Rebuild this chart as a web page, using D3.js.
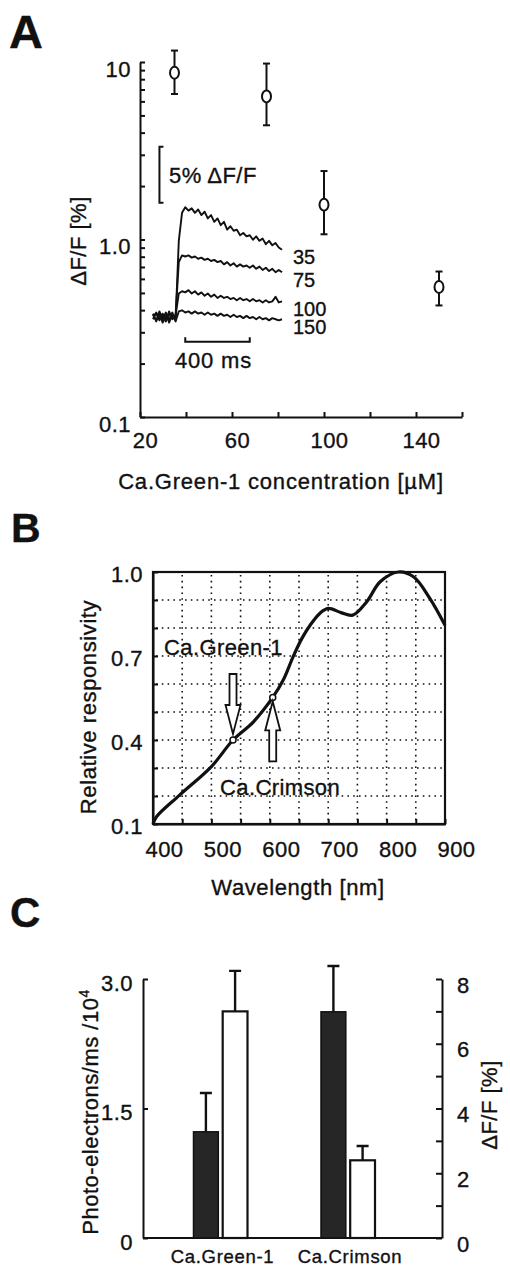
<!DOCTYPE html>
<html lang="en">
<head>
<meta charset="utf-8">
<title>Dye response figure</title>
<script src="https://d3js.org/d3.v7.min.js"></script>
<style>
  body { margin: 0; background: #fff; }
  svg { display: block; }
  text { font-family: "Liberation Sans", Arial, sans-serif; fill: #111; stroke: #111; stroke-width: 0.35px; }
  .tick line, .domain { stroke: #111; stroke-width: 2; }
</style>
</head>
<body>
<script>
// ---- panel A : dF/F vs dye concentration ----
const concA = [35, 75, 100, 150];
const dffA = [8.7, 6.4, 1.57, 0.54];
const dffHiA = [11.6, 9.8, 2.43, 0.66];
const dffLoA = [6.6, 4.4, 1.07, 0.425];
const concTicks = [20, 40, 60, 80, 100, 120, 140, 160];
const concLabels = [20, 60, 100, 140];

// inset traces (ms, % dF/F)
const traceT = [0, 20, 40, 60, 80, 100, 120, 140, 160, 180, 200, 220, 240, 260, 280, 300, 320, 340, 360, 380,
  400, 420, 440, 460, 480, 500, 520, 540, 560, 580, 600, 620, 640, 660, 680, 700, 720, 740, 760, 780, 800];
const trace35 = [0.3, -0.4, 0.5, -0.2, 0.4, -0.5, 0.2, -0.3, 6.8, 9.3, 9.8, 9.5, 9.7, 9.3, 9.6, 9.1, 9.4, 8.8, 9.1, 8.5,
  8.8, 8.2, 8.5, 7.8, 8.1, 7.7, 7.8, 7.3, 7.5, 7.2, 7.3, 6.9, 7.2, 6.8, 7.0, 6.5, 6.8, 6.4, 6.6, 6.2, 6.0];
const trace75 = [0.1, 0.3, -0.3, 0.2, -0.4, 0.3, -0.1, 0.2, 4.9, 5.5, 5.4, 5.5, 5.3, 5.4, 5.2, 5.3, 5.1, 5.2, 5.0, 5.1,
  4.9, 5.0, 4.7, 4.9, 4.6, 4.8, 4.5, 4.7, 4.5, 4.6, 4.4, 4.6, 4.3, 4.5, 4.2, 4.4, 4.1, 4.3, 4.0, 4.2, 4.0];
const trace100 = [-0.2, 0.4, -0.1, 0.3, -0.3, 0.5, -0.2, 0.1, 2.1, 2.3, 2.2, 2.4, 2.1, 2.3, 2.0, 2.2, 1.9, 2.1, 1.8, 2.0,
  1.7, 1.9, 1.7, 1.8, 1.6, 1.7, 1.5, 1.7, 1.5, 1.6, 1.4, 1.6, 1.4, 1.5, 1.3, 1.5, 1.3, 1.4, 1.8, 1.3, 1.4];
const trace150 = [0.2, -0.3, 0.3, -0.5, 0.1, -0.2, 0.4, -0.4, 0.5, 0.6, 0.4, 0.5, 0.3, 0.5, 0.3, 0.4, 0.2, 0.4, 0.2, 0.3,
  0.1, 0.3, 0.1, 0.2, 0.0, 0.2, 0.0, 0.1, -0.1, 0.1, -0.1, 0.0, -0.2, 0.0, -0.2, -0.1, -0.3, -0.1, -0.2, -0.3, -0.2];
const traceNames = ["35", "75", "100", "150"];

// ---- panel B : detector responsivity ----
const waveNm = [400, 406, 446, 500, 537, 572, 605, 623, 640, 655, 669, 686, 700, 722, 742, 766, 789, 820, 846, 874, 900];
const respB = [0.10, 0.126, 0.204, 0.305, 0.40, 0.465, 0.552, 0.614, 0.698, 0.763, 0.81, 0.853, 0.87, 0.855, 0.846, 0.894, 0.965, 1.0, 0.983, 0.906, 0.81];
const dyeMarks = [
  { name: "Ca.Green-1", nm: 537, r: 0.40 },
  { name: "Ca.Crimson", nm: 605, r: 0.552 }
];

// ---- panel C : photo-electrons and dF/F per dye ----
const dyes = ["Ca.Green-1", "Ca.Crimson"];
const photoE = [1.23, 2.62];
const photoEHi = [1.68, 3.15];
const dffC = [7.0, 2.4];
const dffCHi = [8.25, 2.84];

const svg = d3.select("body").append("svg").attr("width", 510).attr("height", 1266);
const FS = 22;

function styleText(sel, size) {
  sel.selectAll("text").style("font-size", size + "px").style("letter-spacing", "0.5px").attr("fill", "#111");
}

function panelLetter(txt, x, y, size) {
  svg.append("text").attr("x", x).attr("y", y).text(txt)
    .style("font-size", size + "px").style("font-weight", "bold");
}

// ================= A =================
panelLetter("A", 9, 48, 47);
const xA = d3.scaleLinear().domain([20, 160]).range([140, 462]);
const yA = d3.scaleLog().domain([0.1, 10]).range([417, 62]);

const gA = svg.append("g");
gA.append("g").attr("transform", "translate(140,0)")
  .call(d3.axisLeft(yA).tickSizeInner(-5).tickSizeOuter(0).tickPadding(9)
    .tickFormat(d => d === 10 ? "10" : d === 1 ? "1.0" : d === 0.1 ? "0.1" : ""))
  .call(g => g.selectAll("text").attr("dy", "0.65em"))
  .call(g => styleText(g, FS));

gA.append("g").attr("transform", "translate(0,417)")
  .call(d3.axisBottom(xA).tickValues(concTicks).tickSizeInner(-5).tickSizeOuter(0).tickPadding(15)
    .tickFormat(d => concLabels.includes(d) ? d : ""))
  .call(g => g.selectAll("text").attr("dx", 5))
  .call(g => styleText(g, FS));

gA.append("text").attr("transform", "translate(86,241) rotate(-90)")
  .attr("text-anchor", "middle").text("ΔF/F [%]")
  .style("font-size", FS + "px").style("letter-spacing", "0.5px");
gA.append("text").attr("x", 281).attr("y", 489).attr("text-anchor", "middle")
  .text("Ca.Green-1 concentration [µM]")
  .style("font-size", FS + "px").style("letter-spacing", "0.8px");

// error bars + open markers
const pts = concA.map((c, i) => ({ c, v: dffA[i], hi: dffHiA[i], lo: dffLoA[i] }));
const eb = gA.append("g").attr("stroke", "#111").attr("stroke-width", 2);
eb.selectAll(".v").data(pts).join("line")
  .attr("x1", d => xA(d.c)).attr("x2", d => xA(d.c))
  .attr("y1", d => yA(d.hi)).attr("y2", d => yA(d.lo));
eb.selectAll(".capT").data(pts).join("line")
  .attr("x1", d => xA(d.c) - 3.5).attr("x2", d => xA(d.c) + 3.5)
  .attr("y1", d => yA(d.hi)).attr("y2", d => yA(d.hi));
eb.selectAll(".capB").data(pts).join("line")
  .attr("x1", d => xA(d.c) - 3.5).attr("x2", d => xA(d.c) + 3.5)
  .attr("y1", d => yA(d.lo)).attr("y2", d => yA(d.lo));
gA.selectAll("ellipse").data(pts).join("ellipse")
  .attr("cx", d => xA(d.c)).attr("cy", d => yA(d.v))
  .attr("rx", 4.5).attr("ry", 6)
  .attr("fill", "#fff").attr("stroke", "#111").attr("stroke-width", 2);

// inset traces
const xT = d3.scaleLinear().domain([0, 800]).range([153, 282]);
const yT = d3.scaleLinear().domain([0, 10]).range([317, 205]);
const tLine = d3.line().x((d, i) => xT(traceT[i])).y(d => yT(d));
const traces = [trace35, trace75, trace100, trace150];
gA.selectAll(".trace").data(traces).join("path")
  .attr("d", tLine).attr("fill", "none").attr("stroke", "#111")
  .attr("stroke-width", 1.9).attr("stroke-linejoin", "round");
gA.selectAll(".tlab").data(traces).join("text")
  .attr("x", 293).attr("y", d => yT(d[d.length - 1]) + 14.5)
  .text((d, i) => traceNames[i])
  .style("font-size", "20px");

// scale bars
const sb = gA.append("g").attr("stroke", "#111").attr("stroke-width", 2).attr("fill", "none");
sb.append("path").attr("d", `M${xT(40) + 4},${yT(15.2)}H${xT(40)}V${yT(10.2)}H${xT(40) + 4}`);
sb.append("path").attr("d", `M${xT(200)},${yT(-1.8)}V${yT(-2.2)}H${xT(600)}V${yT(-1.8)}`);
gA.append("text").attr("x", 169).attr("y", 183).text("5% ΔF/F")
  .style("font-size", FS + "px").style("letter-spacing", "0.5px");
gA.append("text").attr("x", 175).attr("y", 368).text("400 ms")
  .style("font-size", FS + "px").style("letter-spacing", "0.8px");

// ================= B =================
panelLetter("B", 11, 542, 41);
const xB = d3.scaleLinear().domain([400, 900]).range([153, 445]);
const yB = d3.scaleLinear().domain([0.1, 1.0]).range([824, 572]);
const gB = svg.append("g");
const nmGrid = [450, 500, 550, 600, 650, 700, 750, 800, 850];
const rGrid = [0.2, 0.3, 0.4, 0.5, 0.6, 0.7, 0.8, 0.9];

const grid = gB.append("g").attr("stroke", "#111").attr("stroke-width", 1.6)
  .attr("stroke-dasharray", "1.6,4.2");
grid.selectAll(".gv").data(nmGrid).join("line")
  .attr("x1", d => xB(d)).attr("x2", d => xB(d)).attr("y1", 575).attr("y2", 821);
grid.selectAll(".gh").data(rGrid).join("line")
  .attr("y1", d => yB(d)).attr("y2", d => yB(d)).attr("x1", 156).attr("x2", 442);

gB.append("g").attr("transform", "translate(0,824)")
  .call(d3.axisBottom(xB).tickValues([400, 450, 500, 550, 600, 650, 700, 750, 800, 850, 900])
    .tickSizeInner(-5).tickSizeOuter(0).tickPadding(17)
    .tickFormat(d => d % 100 === 0 ? d : ""))
  .call(g => g.selectAll("text").attr("dx", 11))
  .call(g => styleText(g, FS));
gB.append("g").attr("transform", "translate(153,0)")
  .call(d3.axisLeft(yB).tickValues([0.1, 0.2, 0.3, 0.4, 0.5, 0.6, 0.7, 0.8, 0.9, 1.0])
    .tickSizeInner(-5).tickSizeOuter(0).tickPadding(10)
    .tickFormat(d => [0.1, 0.4, 0.7, 1.0].some(v => Math.abs(v - d) < 1e-6) ? d3.format(".1f")(d) : ""))
  .call(g => g.selectAll("text").attr("dy", "0.45em"))
  .call(g => styleText(g, FS));
gB.append("rect").attr("x", 153).attr("y", 572).attr("width", 292).attr("height", 252)
  .attr("fill", "none").attr("stroke", "#111").attr("stroke-width", 2.2);

gB.append("text").attr("transform", "translate(96,707) rotate(-90)")
  .attr("text-anchor", "middle").text("Relative responsivity")
  .style("font-size", FS + "px").style("letter-spacing", "0.6px");
gB.append("text").attr("x", 298).attr("y", 895).attr("text-anchor", "middle")
  .text("Wavelength [nm]").style("font-size", FS + "px").style("letter-spacing", "0.6px");

const respLine = d3.line().x((d, i) => xB(waveNm[i])).y(d => yB(d)).curve(d3.curveCatmullRom);
gB.append("path").attr("d", respLine(respB)).attr("fill", "none")
  .attr("stroke", "#111").attr("stroke-width", 3.2);

gB.selectAll(".mk").data(dyeMarks).join("circle")
  .attr("cx", d => xB(d.nm)).attr("cy", d => yB(d.r)).attr("r", 3)
  .attr("fill", "#fff").attr("stroke", "#111").attr("stroke-width", 1.5);

// hollow arrows
function arrowPath(x, tipY, dir) {
  // dir = 1 points down, -1 points up
  const head = 29, shaft = 31, hw = 7.5, sw = 3.5;
  const b = tipY - dir * head, e = b - dir * shaft;
  return `M${x},${tipY}L${x - hw},${b}L${x - sw},${b}L${x - sw},${e}L${x + sw},${e}L${x + sw},${b}L${x + hw},${b}Z`;
}
gB.append("path").attr("d", arrowPath(xB(dyeMarks[0].nm), yB(dyeMarks[0].r) - 6, 1))
  .attr("fill", "#fff").attr("stroke", "#111").attr("stroke-width", 1.8);
gB.append("path").attr("d", arrowPath(xB(dyeMarks[1].nm), yB(dyeMarks[1].r) + 4, -1))
  .attr("fill", "#fff").attr("stroke", "#111").attr("stroke-width", 1.8);
gB.append("text").attr("x", 164).attr("y", 655).text(dyeMarks[0].name)
  .style("font-size", FS + "px").style("letter-spacing", "0.4px");
gB.append("text").attr("x", 220).attr("y", 795).text(dyeMarks[1].name)
  .style("font-size", FS + "px").style("letter-spacing", "0.4px");

// ================= C =================
panelLetter("C", 10, 927, 42);
const yCL = d3.scaleLinear().domain([0, 3]).range([1238, 979]);
const yCR = d3.scaleLinear().domain([0, 8]).range([1238, 979]);
const xC = d3.scalePoint().domain(dyes).range([220.5, 348]);
const sub = d3.scaleBand().domain(["pe", "dff"]).range([-27, 27]).paddingInner(0.15);
const gC = svg.append("g");

gC.append("g").attr("transform", "translate(143,0)")
  .call(d3.axisLeft(yCL).tickValues([0, 1.5, 3]).tickSizeInner(-5).tickSizeOuter(0).tickPadding(10)
    .tickFormat(d => d === 0 ? "0" : d3.format(".1f")(d)))
  .call(g => g.selectAll("text").attr("dy", "0.5em"))
  .call(g => styleText(g, FS));
gC.append("g").attr("transform", "translate(442,0)")
  .call(d3.axisRight(yCR).tickValues([0, 1, 2, 3, 4, 5, 6, 7, 8]).tickSizeInner(-6).tickSizeOuter(0).tickPadding(15)
    .tickFormat(d => d % 2 === 0 ? d : ""))
  .call(g => g.selectAll("text").attr("dy", "0.6em"))
  .call(g => styleText(g, FS));
gC.append("line").attr("x1", 143).attr("x2", 442).attr("y1", yCL(0)).attr("y2", yCL(0))
  .attr("stroke", "#111").attr("stroke-width", 2);

gC.append("text").attr("transform", "translate(98,1112) rotate(-90)")
  .attr("text-anchor", "middle")
  .style("font-size", FS + "px").style("letter-spacing", "0.5px")
  .call(t => {
    t.append("tspan").text("Photo-electrons/ms /10");
    t.append("tspan").text("4").attr("dy", -9).style("font-size", "14px");
  });
gC.append("text").attr("transform", "translate(497,1105) rotate(-90)")
  .attr("text-anchor", "middle").text("ΔF/F [%]")
  .style("font-size", FS + "px").style("letter-spacing", "0.5px");

const barsC = dyes.map((d, i) => ({ d, pe: photoE[i], peHi: photoEHi[i], dff: dffC[i], dffHi: dffCHi[i] }));
const errG = gC.append("g").attr("stroke", "#111").attr("stroke-width", 2.4);
errG.selectAll(".epe").data(barsC).join("path")
  .attr("d", d => {
    const cx = xC(d.d) + sub("pe") + sub.bandwidth() / 2;
    return `M${cx},${yCL(d.pe)}V${yCL(d.peHi)}M${cx - 6},${yCL(d.peHi)}H${cx + 6}`;
  });
errG.selectAll(".edf").data(barsC).join("path")
  .attr("d", d => {
    const cx = xC(d.d) + sub("dff") + sub.bandwidth() / 2;
    return `M${cx},${yCR(d.dff)}V${yCR(d.dffHi)}M${cx - 6},${yCR(d.dffHi)}H${cx + 6}`;
  });
gC.selectAll(".bpe").data(barsC).join("rect")
  .attr("x", d => xC(d.d) + sub("pe")).attr("width", sub.bandwidth())
  .attr("y", d => yCL(d.pe)).attr("height", d => yCL(0) - yCL(d.pe))
  .attr("fill", "#262626").attr("stroke", "#111").attr("stroke-width", 1.5);
gC.selectAll(".bdf").data(barsC).join("rect")
  .attr("x", d => xC(d.d) + sub("dff")).attr("width", sub.bandwidth())
  .attr("y", d => yCR(d.dff)).attr("height", d => yCR(0) - yCR(d.dff))
  .attr("fill", "#fff").attr("stroke", "#111").attr("stroke-width", 2.2);

gC.selectAll(".cl").data(dyes).join("text")
  .attr("x", d => xC(d) + 2).attr("y", 1263).attr("text-anchor", "middle")
  .text(d => d).style("font-size", "18.5px").style("letter-spacing", "0.7px");
</script>
</body>
</html>
